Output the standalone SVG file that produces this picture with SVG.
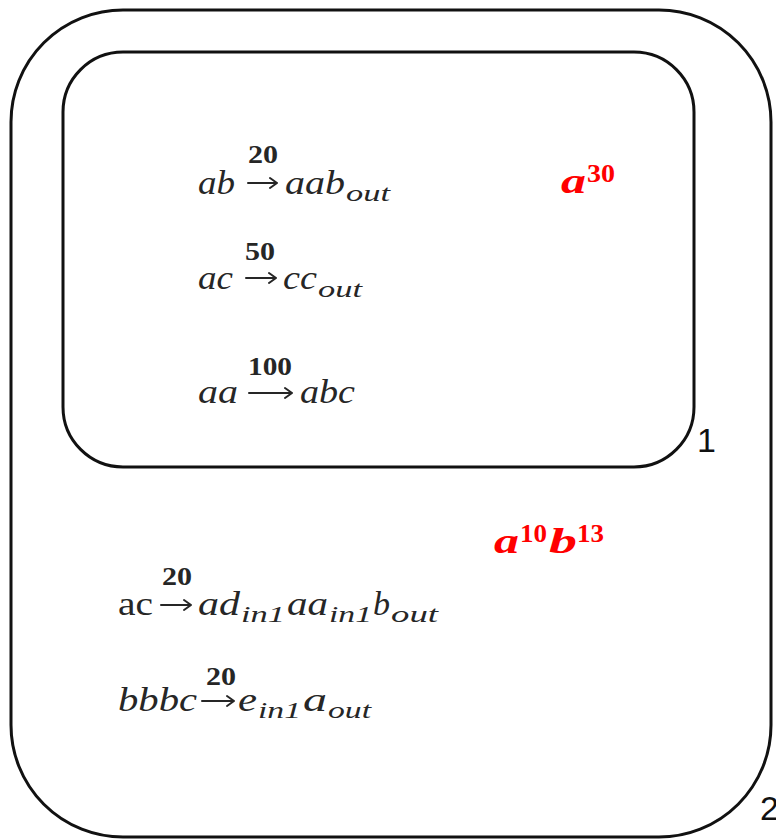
<svg xmlns="http://www.w3.org/2000/svg" width="776" height="840" viewBox="0 0 776 840">
<style>
.m{fill:none;stroke:#111;stroke-width:3}
.ar{fill:none;stroke:#262626;stroke-width:2;stroke-linecap:round;stroke-linejoin:round}
.t{font-family:"Liberation Serif","DejaVu Serif",serif;font-style:italic;font-size:33px;fill:#262626}
.u{font-family:"Liberation Serif","DejaVu Serif",serif;font-size:33px;fill:#262626}
.s{font-family:"Liberation Serif","DejaVu Serif",serif;font-style:italic;font-size:24px;fill:#262626}
.n{font-family:"Liberation Serif","DejaVu Serif",serif;font-weight:bold;font-size:26px;fill:#262626}
.r{font-family:"Liberation Serif","DejaVu Serif",serif;font-style:italic;font-weight:bold;font-size:35px;fill:#ff0000}
.rn{font-family:"Liberation Serif","DejaVu Serif",serif;font-weight:bold;font-size:26px;fill:#ff0000}
.lbl{font-family:"Liberation Sans",Arial,sans-serif;font-size:34px;fill:#111}
</style>
<rect width="776" height="840" fill="#fff"/>
<g id="membrane2">
<rect class="m" x="11" y="10" width="760" height="827" rx="112" ry="112"/>
<text class="lbl" x="760" y="820">2</text>
<g id="objects2">
<text class="r" x="494" y="553" textLength="25" lengthAdjust="spacingAndGlyphs">a</text>
<text class="rn" x="520" y="542" textLength="27" lengthAdjust="spacingAndGlyphs">10</text>
<text class="r" x="549" y="553" textLength="28" lengthAdjust="spacingAndGlyphs">b</text>
<text class="rn" x="577" y="542" textLength="27" lengthAdjust="spacingAndGlyphs">13</text>
</g>
<g id="rule2a">
<text class="u" x="118" y="615" textLength="35" lengthAdjust="spacingAndGlyphs">ac</text>
<text class="n" x="162" y="585" textLength="30" lengthAdjust="spacingAndGlyphs">20</text>
<path class="ar" d="M161 605H191M184 600L191 605L184 610"/>
<text class="t" x="198" y="615" textLength="42" lengthAdjust="spacingAndGlyphs">ad</text>
<text class="s" x="241" y="622" textLength="44" lengthAdjust="spacingAndGlyphs">in1</text>
<text class="t" x="287" y="615" textLength="41" lengthAdjust="spacingAndGlyphs">aa</text>
<text class="s" x="329" y="622" textLength="43" lengthAdjust="spacingAndGlyphs">in1</text>
<text class="t" x="373" y="615" textLength="17" lengthAdjust="spacingAndGlyphs">b</text>
<text class="s" x="391" y="622" textLength="47" lengthAdjust="spacingAndGlyphs">out</text>
</g>
<g id="rule2b">
<text class="t" x="118" y="711" textLength="79" lengthAdjust="spacingAndGlyphs">bbbc</text>
<text class="n" x="206" y="685" textLength="30" lengthAdjust="spacingAndGlyphs">20</text>
<path class="ar" d="M202 701H234M227 696L234 701L227 706"/>
<text class="t" x="238" y="711" textLength="19" lengthAdjust="spacingAndGlyphs">e</text>
<text class="s" x="258" y="718" textLength="43" lengthAdjust="spacingAndGlyphs">in1</text>
<text class="t" x="303" y="711" textLength="24" lengthAdjust="spacingAndGlyphs">a</text>
<text class="s" x="328" y="718" textLength="43" lengthAdjust="spacingAndGlyphs">out</text>
</g>
</g>
<g id="membrane1">
<rect class="m" x="63" y="52" width="631" height="415" rx="60" ry="60"/>
<text class="lbl" x="697" y="452">1</text>
<g id="objects1">
<text class="r" x="561" y="193" textLength="25" lengthAdjust="spacingAndGlyphs">a</text>
<text class="rn" x="587" y="182" textLength="28" lengthAdjust="spacingAndGlyphs">30</text>
</g>
<g id="rule1a">
<text class="t" x="198" y="194" textLength="37" lengthAdjust="spacingAndGlyphs">ab</text>
<text class="n" x="248" y="163" textLength="30" lengthAdjust="spacingAndGlyphs">20</text>
<path class="ar" d="M248 183H277M270 178L277 183L270 188"/>
<text class="t" x="285" y="194" textLength="60" lengthAdjust="spacingAndGlyphs">aab</text>
<text class="s" x="346" y="201" textLength="44" lengthAdjust="spacingAndGlyphs">out</text>
</g>
<g id="rule1b">
<text class="t" x="198" y="289" textLength="35" lengthAdjust="spacingAndGlyphs">ac</text>
<text class="n" x="245" y="260" textLength="30" lengthAdjust="spacingAndGlyphs">50</text>
<path class="ar" d="M246 278H276M269 273L276 278L269 283"/>
<text class="t" x="283" y="289" textLength="34" lengthAdjust="spacingAndGlyphs">cc</text>
<text class="s" x="318" y="297" textLength="44" lengthAdjust="spacingAndGlyphs">out</text>
</g>
<g id="rule1c">
<text class="t" x="198" y="403" textLength="40" lengthAdjust="spacingAndGlyphs">aa</text>
<text class="n" x="248" y="375" textLength="44" lengthAdjust="spacingAndGlyphs">100</text>
<path class="ar" d="M249 393H292M285 388L292 393L285 398"/>
<text class="t" x="300" y="403" textLength="55" lengthAdjust="spacingAndGlyphs">abc</text>
</g>
</g>
</svg>
